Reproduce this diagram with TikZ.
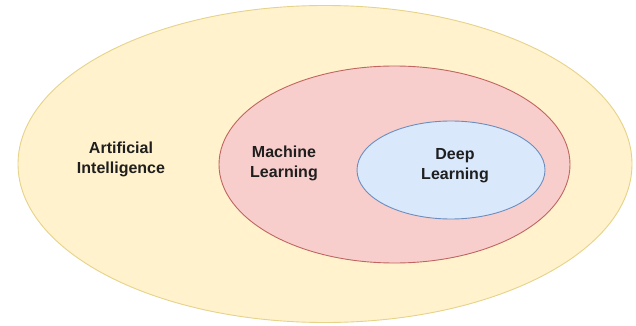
\documentclass[tikz,border=0pt]{standalone}
\usepackage{fontspec}
\setmainfont{Liberation Sans}
\usetikzlibrary{shapes.geometric}
\definecolor{aifill}{HTML}{FFF2CC}
\definecolor{aidraw}{HTML}{E6D38A}
\definecolor{mlfill}{HTML}{F8CECC}
\definecolor{mldraw}{HTML}{C06560}
\definecolor{dlfill}{HTML}{DAE8FC}
\definecolor{dldraw}{HTML}{6C8EBF}
\tikzset{
  label/.style={font=\bfseries\fontsize{16}{20}\selectfont, align=center, text=black!88, inner sep=0pt},
  setshape/.style={ellipse, inner sep=0pt, line width=0.9pt}
}
\begin{document}
\begin{tikzpicture}[x=1pt,y=-1pt]
\useasboundingbox (0,0) rectangle (636,326);
\fill[white] (0,0) rectangle (636,326);
\node[setshape, draw=aidraw, fill=aifill, minimum width=614pt, minimum height=317pt] (ai) at (325,164) {};
\node[setshape, draw=mldraw, fill=mlfill, minimum width=351pt, minimum height=197pt] (ml) at (394.5,164.5) {};
\node[setshape, draw=dldraw, fill=dlfill, minimum width=188pt, minimum height=98pt] (dl) at (451,170) {};
\node[label] (ait) at (121,159) {Artificial\\Intelligence};
\node[label] (mlt) at (284,163) {Machine\\Learning};
\node[label] (dlt) at (455,166) {Deep\\Learning};
\end{tikzpicture}
\end{document}
